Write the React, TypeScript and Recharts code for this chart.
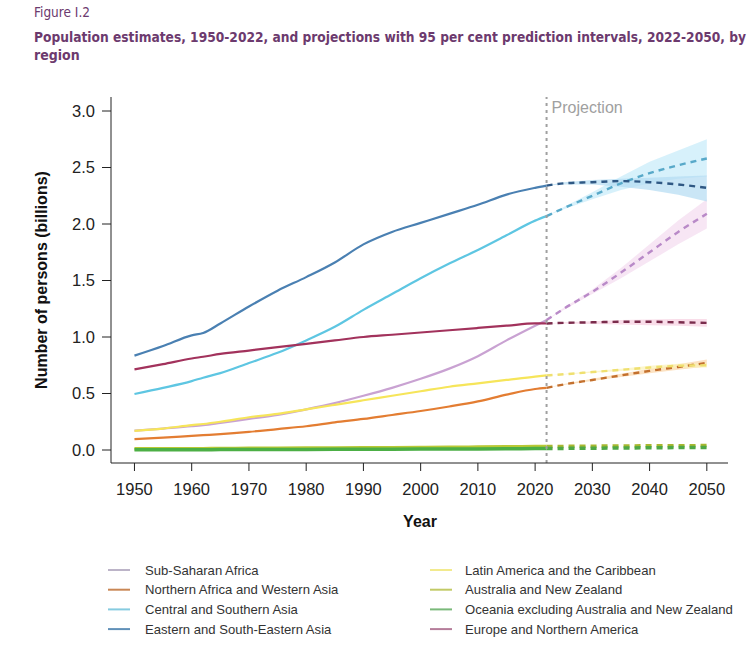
import {
    ComposedChart,
    Line,
    Area,
    XAxis,
    YAxis,
    ReferenceLine,
} from "recharts";

// ── Data ──────────────────────────────────────────────────────────────────────

const ESTIMATE_YEARS = [1950, 1955, 1960, 1962, 1965, 1970, 1975, 1980, 1985, 1990, 1995, 2000, 2005, 2010, 2015, 2020, 2022];
const PROJECTION_YEARS = [2022, 2025, 2030, 2035, 2040, 2045, 2050];

const X_TICKS = [1950, 1960, 1970, 1980, 1990, 2000, 2010, 2020, 2030, 2040, 2050];
const Y_TICKS = [0, 0.5, 1, 1.5, 2, 2.5, 3];

// estimates (billions)
const ssaEst = [0.171, 0.19, 0.21, 0.22, 0.24, 0.275, 0.31, 0.36, 0.415, 0.48, 0.55, 0.63, 0.72, 0.83, 0.97, 1.1, 1.15];
const nawaEst = [0.097, 0.11, 0.125, 0.131, 0.14, 0.16, 0.185, 0.21, 0.245, 0.275, 0.31, 0.345, 0.385, 0.43, 0.49, 0.54, 0.55];
const csaEst = [0.496, 0.55, 0.61, 0.64, 0.68, 0.77, 0.86, 0.97, 1.09, 1.24, 1.38, 1.52, 1.65, 1.77, 1.9, 2.03, 2.07];
const eseaEst = [0.835, 0.92, 1.015, 1.035, 1.12, 1.27, 1.41, 1.53, 1.66, 1.82, 1.93, 2.01, 2.09, 2.17, 2.26, 2.32, 2.34];
const lacEst = [0.17, 0.19, 0.22, 0.23, 0.25, 0.29, 0.32, 0.36, 0.4, 0.44, 0.48, 0.52, 0.56, 0.59, 0.62, 0.65, 0.66];
const ausEst = [0.0102, 0.011, 0.012, 0.0122, 0.0125, 0.015, 0.016, 0.017, 0.018, 0.02, 0.021, 0.023, 0.024, 0.026, 0.028, 0.03, 0.031];
const oceEst = [0.0024, 0.0027, 0.003, 0.0031, 0.0035, 0.0039, 0.0044, 0.005, 0.0056, 0.0063, 0.0071, 0.008, 0.0089, 0.0099, 0.011, 0.0125, 0.0131];
const euroEst = [0.714, 0.76, 0.81, 0.825, 0.85, 0.88, 0.91, 0.94, 0.97, 1.0, 1.02, 1.04, 1.06, 1.08, 1.1, 1.12, 1.12];

// projections (median, lower 95, upper 95)
const ssaProj = [1.15, 1.25, 1.4, 1.57, 1.75, 1.93, 2.09];
const ssaLo = [1.15, 1.24, 1.38, 1.52, 1.67, 1.82, 1.96];
const ssaHi = [1.15, 1.26, 1.42, 1.61, 1.82, 2.03, 2.22];

const nawaProj = [0.55, 0.58, 0.62, 0.66, 0.7, 0.735, 0.77];
const nawaLo = [0.55, 0.575, 0.61, 0.645, 0.68, 0.71, 0.74];
const nawaHi = [0.55, 0.585, 0.63, 0.675, 0.72, 0.76, 0.8];

const csaProj = [2.07, 2.14, 2.25, 2.36, 2.45, 2.52, 2.58];
const csaLo = [2.07, 2.13, 2.22, 2.3, 2.36, 2.4, 2.42];
const csaHi = [2.07, 2.15, 2.28, 2.42, 2.55, 2.65, 2.75];

const eseaProj = [2.34, 2.36, 2.37, 2.38, 2.37, 2.35, 2.32];
const eseaLo = [2.34, 2.35, 2.35, 2.33, 2.3, 2.26, 2.2];
const eseaHi = [2.34, 2.37, 2.39, 2.4, 2.41, 2.42, 2.43];

const lacProj = [0.66, 0.67, 0.69, 0.71, 0.73, 0.745, 0.75];
const lacLo = [0.66, 0.668, 0.684, 0.7, 0.715, 0.726, 0.73];
const lacHi = [0.66, 0.672, 0.696, 0.72, 0.745, 0.764, 0.77];

const ausProj = [0.031, 0.032, 0.034, 0.036, 0.037, 0.038, 0.039];
const oceProj = [0.0131, 0.0142, 0.016, 0.0178, 0.0196, 0.0214, 0.023];

const euroProj = [1.12, 1.125, 1.13, 1.135, 1.135, 1.13, 1.125];
const euroLo = [1.12, 1.12, 1.115, 1.11, 1.105, 1.1, 1.09];
const euroHi = [1.12, 1.13, 1.14, 1.15, 1.155, 1.16, 1.16];

// ── Series config ────────────────────────────────────────────────────────────

const SERIES = [
    { key: "ssa", name: "Sub-Saharan Africa", est: ssaEst, proj: ssaProj, lo: ssaLo, hi: ssaHi, color: "#c9a2d2", dash: "#b98ac8", band: "#f4dcf0", legend: "#bcb4c8" },
    { key: "nawa", name: "Northern Africa and Western Asia", est: nawaEst, proj: nawaProj, lo: nawaLo, hi: nawaHi, color: "#e37d32", dash: "#c3702e", band: "#fbd6a8", legend: "#c98755" },
    { key: "csa", name: "Central and Southern Asia", est: csaEst, proj: csaProj, lo: csaLo, hi: csaHi, color: "#5ec6e2", dash: "#58a9c9", band: "#c6ebf9", legend: "#86cbe0" },
    { key: "esea", name: "Eastern and South-Eastern Asia", est: eseaEst, proj: eseaProj, lo: eseaLo, hi: eseaHi, color: "#4a80b2", dash: "#2f5884", band: "#b3dbf2", legend: "#6090b8" },
    { key: "lac", name: "Latin America and the Caribbean", est: lacEst, proj: lacProj, lo: lacLo, hi: lacHi, color: "#f6e55a", dash: "#efe070", band: "#fbf2b8", legend: "#f2ea8e" },
    { key: "aus", name: "Australia and New Zealand", est: ausEst, proj: ausProj, lo: null, hi: null, color: "#b9c935", dash: "#a8b830", band: "", legend: "#c2ca66" },
    { key: "oce", name: "Oceania excluding Australia and New Zealand", est: oceEst, proj: oceProj, lo: null, hi: null, color: "#4caf45", dash: "#4ea846", band: "", legend: "#7ab97a" },
    { key: "euro", name: "Europe and Northern America", est: euroEst, proj: euroProj, lo: euroLo, hi: euroHi, color: "#a2325c", dash: "#7a2c4c", band: "#f6cfe0", legend: "#b57d9a" },
];

const ALL_YEARS = Array.from(new Set([...ESTIMATE_YEARS, ...PROJECTION_YEARS])).sort((a, b) => a - b);

const rows = ALL_YEARS.map((year) => {
    const row: Record<string, any> = { year };
    const ei = ESTIMATE_YEARS.indexOf(year);
    const pi = PROJECTION_YEARS.indexOf(year);
    SERIES.forEach((s) => {
        if (ei >= 0) row[s.key] = s.est[ei];
        if (pi >= 0) {
            row[s.key + "P"] = s.proj[pi];
            if (s.lo && s.hi) row[s.key + "B"] = [s.lo[pi], s.hi[pi]];
        }
    });
    return row;
});

const FONT = "'Liberation Sans', Arial, sans-serif";
const NARROW = "'Liberation Sans Narrow', 'DejaVu Sans Condensed', 'Liberation Sans', sans-serif";
const PURPLE = "#6c3a6e";

// ── Component ────────────────────────────────────────────────────────────────

export default function App() {
    return (
        <div style={{ position: "absolute", left: 0, top: 0, width: 756, height: 664, background: "#fff" }}>
            <ComposedChart
                width={756}
                height={664}
                data={rows}
                margin={{ top: 97, right: 28, bottom: 171, left: 51 }}
            >
                <XAxis
                    dataKey="year"
                    type="number"
                    domain={[1945.9, 2053.7]}
                    ticks={X_TICKS}
                    allowDataOverflow
                    height={30}
                    tickSize={8}
                    tickMargin={12}
                    stroke="#222"
                    tick={{ fill: "#222", fontSize: 16.5, fontFamily: FONT }}
                />
                <YAxis
                    type="number"
                    domain={[-0.115, 3.124]}
                    ticks={Y_TICKS}
                    allowDataOverflow
                    width={60}
                    tickSize={9}
                    tickMargin={7}
                    stroke="#222"
                    tickFormatter={(v: number) => v.toFixed(1)}
                    tick={{ fill: "#222", fontSize: 16.5, fontFamily: FONT }}
                />

                {/* 95% prediction bands */}
                {SERIES.filter((s) => s.lo).map((s) => (
                    <Area
                        key={s.key + "B"}
                        dataKey={s.key + "B"}
                        type="linear"
                        stroke="none"
                        fill={s.band}
                        fillOpacity={0.7}
                        isAnimationActive={false}
                        connectNulls
                    />
                ))}

                {/* estimates */}
                {SERIES.map((s) => (
                    <Line
                        key={s.key}
                        dataKey={s.key}
                        type="monotone"
                        stroke={s.color}
                        strokeWidth={s.key === "aus" || s.key === "oce" ? 3.5 : 2.2}
                        dot={false}
                        isAnimationActive={false}
                    />
                ))}

                {/* projections */}
                {SERIES.map((s) => (
                    <Line
                        key={s.key + "P"}
                        dataKey={s.key + "P"}
                        type="monotone"
                        stroke={s.dash}
                        strokeWidth={s.key === "aus" || s.key === "oce" ? 3.5 : 2.4}
                        strokeDasharray="6 5"
                        dot={false}
                        isAnimationActive={false}
                        connectNulls
                    />
                ))}

                <ReferenceLine
                    x={2022}
                    stroke="#a0a0a0"
                    strokeWidth={2}
                    strokeDasharray="3 4"
                    label={{
                        value: "Projection",
                        position: "insideTopLeft",
                        offset: 5,
                        fill: "#a0a0a0",
                        fontSize: 16,
                        fontFamily: FONT,
                    }}
                />
            </ComposedChart>

            <svg
                width={756}
                height={664}
                style={{ position: "absolute", left: 0, top: 0, pointerEvents: "none" }}
            >
                <text x={34} y={17} fill={PURPLE} fontSize={13.5} fontFamily={NARROW}>
                    Figure I.2
                </text>
                <text
                    x={34}
                    y={42}
                    fill={PURPLE}
                    fontSize={13.2}
                    fontWeight="bold"
                    fontFamily={NARROW}
                    textLength={712}
                    lengthAdjust="spacingAndGlyphs"
                >
                    Population estimates, 1950-2022, and projections with 95 per cent prediction intervals, 2022-2050, by
                </text>
                <text x={34} y={60} fill={PURPLE} fontSize={14} fontWeight="bold" fontFamily={NARROW}>
                    region
                </text>

                <text
                    transform="translate(47,280) rotate(-90)"
                    textAnchor="middle"
                    fill="#111"
                    fontSize={16}
                    fontWeight="bold"
                    fontFamily={FONT}
                >
                    Number of persons (billions)
                </text>
                <text x={420} y={527} textAnchor="middle" fill="#111" fontSize={16} fontWeight="bold" fontFamily={FONT}>
                    Year
                </text>

                {SERIES.map((s, i) => {
                    const col = Math.floor(i / 4);
                    const y = 570 + (i % 4) * 19.7;
                    const lx = col === 0 ? 108 : 430;
                    const tx = col === 0 ? 145 : 465;
                    return (
                        <g key={"lg" + s.key}>
                            <line x1={lx} x2={lx + 22} y1={y} y2={y} stroke={s.legend} strokeWidth={2} />
                            <text x={tx} y={y + 4.5} fill="#333" fontSize={13.1} fontFamily={FONT}>
                                {s.name}
                            </text>
                        </g>
                    );
                })}
            </svg>
        </div>
    );
}
